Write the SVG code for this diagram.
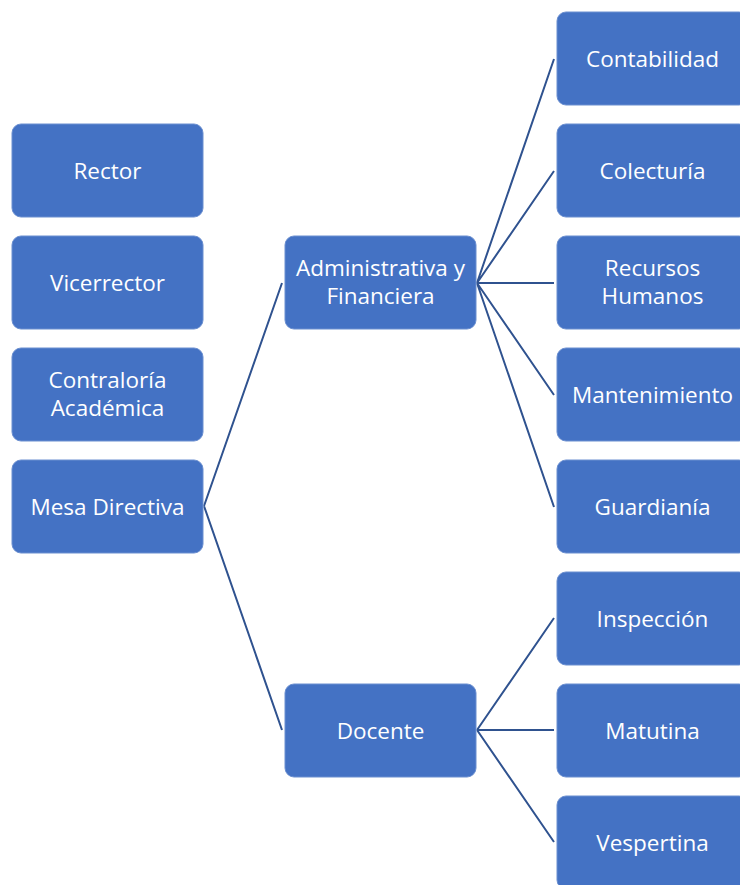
<svg xmlns="http://www.w3.org/2000/svg" width="740" height="885" viewBox="0 0 740 885">
<style>
.box{fill:#4472C4;stroke:#6b8fd0;stroke-width:1}
.lbl{font-family:"Open Sans","Noto Sans",sans-serif;font-size:22.5px;fill:#ffffff;text-anchor:middle;dominant-baseline:central}
.con{stroke:#2F528F;stroke-width:2;fill:none}
</style>
<rect width="740" height="885" fill="#ffffff"/>
<g id="connectors">
<path class="con" d="M204,506 L282,283 M204,506 L282,730"/>
<path class="con" d="M477,283 L554,59 M477,283 L554,171 M477,283 L554,283 M477,283 L554,395 M477,283 L554,507"/>
<path class="con" d="M477,730 L554,618 M477,730 L554,730 M477,730 L554,842"/>
</g>
<g id="rector"><rect class="box" x="12" y="124" width="191" height="93" rx="9"/><text class="lbl" x="107.5" y="170">Rector</text></g>
<g id="vicerrector"><rect class="box" x="12" y="236" width="191" height="93" rx="9"/><text class="lbl" x="107.5" y="282">Vicerrector</text></g>
<g id="contraloria"><rect class="box" x="12" y="348" width="191" height="93" rx="9"/><text class="lbl" x="107.5" y="379.5">Contraloría</text><text class="lbl" x="107.5" y="407.5">Académica</text></g>
<g id="mesa"><rect class="box" x="12" y="460" width="191" height="93" rx="9"/><text class="lbl" x="107.5" y="506">Mesa Directiva</text></g>
<g id="administrativa"><rect class="box" x="285" y="236" width="191" height="93" rx="9"/><text class="lbl" x="380.5" y="267.5">Administrativa y</text><text class="lbl" x="380.5" y="295.5">Financiera</text></g>
<g id="docente"><rect class="box" x="285" y="684" width="191" height="93" rx="9"/><text class="lbl" x="380.5" y="730">Docente</text></g>
<g id="contabilidad"><rect class="box" x="557" y="12" width="191" height="93" rx="9"/><text class="lbl" x="652.5" y="58">Contabilidad</text></g>
<g id="colecturia"><rect class="box" x="557" y="124" width="191" height="93" rx="9"/><text class="lbl" x="652.5" y="170">Colecturía</text></g>
<g id="recursos"><rect class="box" x="557" y="236" width="191" height="93" rx="9"/><text class="lbl" x="652.5" y="267.5">Recursos</text><text class="lbl" x="652.5" y="295.5">Humanos</text></g>
<g id="mantenimiento"><rect class="box" x="557" y="348" width="191" height="93" rx="9"/><text class="lbl" x="652.5" y="394">Mantenimiento</text></g>
<g id="guardiania"><rect class="box" x="557" y="460" width="191" height="93" rx="9"/><text class="lbl" x="652.5" y="506">Guardianía</text></g>
<g id="inspeccion"><rect class="box" x="557" y="572" width="191" height="93" rx="9"/><text class="lbl" x="652.5" y="618">Inspección</text></g>
<g id="matutina"><rect class="box" x="557" y="684" width="191" height="93" rx="9"/><text class="lbl" x="652.5" y="730">Matutina</text></g>
<g id="vespertina"><rect class="box" x="557" y="796" width="191" height="93" rx="9"/><text class="lbl" x="652.5" y="842">Vespertina</text></g>
</svg>
